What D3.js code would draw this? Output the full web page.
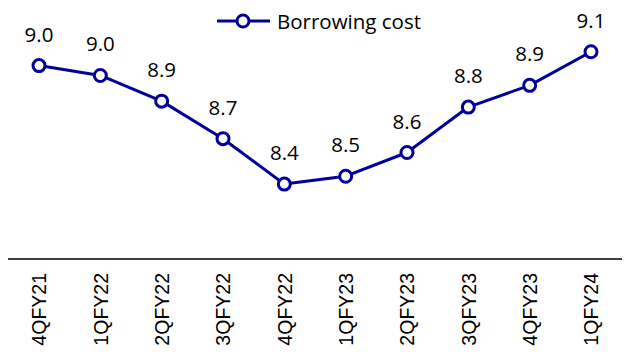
<!DOCTYPE html>
<html>
<head>
<meta charset="utf-8">
<script src="https://cdn.jsdelivr.net/npm/d3@7"></script>
<style>
  html, body { margin: 0; padding: 0; background: #ffffff; }
  svg { display: block; }
</style>
</head>
<body>
<div id="chart"></div>
<script>
const categories = ["4QFY21","1QFY22","2QFY22","3QFY22","4QFY22","1QFY23","2QFY23","3QFY23","4QFY23","1QFY24"];
const borrowingCost = [9.04, 8.99, 8.86, 8.67, 8.44, 8.48, 8.60, 8.83, 8.94, 9.11];
const seriesName = "Borrowing cost";

const W = 630, H = 352;
const color = "#000099";
const labelFont = "'Open Sans', sans-serif";
const axisFont = "'Liberation Sans', Arial, sans-serif";

const svg = d3.select("#chart").append("svg").attr("width", W).attr("height", H);

const x = d3.scalePoint().domain(categories).range([39, 591]);
const y = d3.scaleLinear().domain([8.0, 9.2]).range([271, 34]);

// baseline axis
const axisY = 259;
const xAxis = d3.axisBottom(x).tickSize(0).tickPadding(0);
const gx = svg.append("g").attr("transform", `translate(0,${axisY})`).call(xAxis);
gx.select(".domain").remove();
gx.append("line").attr("x1", 8).attr("x2", 622).attr("y1", 0).attr("y2", 0)
  .attr("stroke", "#000").attr("stroke-width", 1.5);
gx.selectAll(".tick text")
  .attr("font-family", axisFont).attr("font-size", 19.5).attr("fill", "#000")
  .attr("text-anchor", "end")
  .attr("dy", "0.35em")
  .attr("transform", "translate(0,14) rotate(-90)")
  .attr("x", 0).attr("y", 0);

// line
const line = d3.line().x((d, i) => x(categories[i])).y(d => y(d));
svg.append("path").datum(borrowingCost)
  .attr("d", line).attr("fill", "none")
  .attr("stroke", color).attr("stroke-width", 3).attr("stroke-linejoin", "round");

// markers
svg.selectAll("circle.pt").data(borrowingCost).enter().append("circle")
  .attr("class", "pt")
  .attr("cx", (d, i) => x(categories[i])).attr("cy", d => y(d))
  .attr("r", 6).attr("fill", "#fff").attr("stroke", color).attr("stroke-width", 3);

// data labels
const fmt = d3.format(".1f");
svg.selectAll("text.lbl").data(borrowingCost).enter().append("text")
  .attr("class", "lbl")
  .attr("x", (d, i) => x(categories[i])).attr("y", d => y(d) - 24)
  .attr("text-anchor", "middle")
  .attr("font-family", labelFont).attr("font-size", 20.5).attr("fill", "#000")
  .text(d => fmt(d));

// legend
const lg = svg.append("g");
lg.append("line").attr("x1", 217).attr("x2", 270).attr("y1", 21).attr("y2", 21)
  .attr("stroke", color).attr("stroke-width", 3);
lg.append("circle").attr("cx", 243).attr("cy", 21).attr("r", 6)
  .attr("fill", "#fff").attr("stroke", color).attr("stroke-width", 3);
lg.append("text").attr("x", 277).attr("y", 28.5)
  .attr("font-family", labelFont).attr("font-size", 20.5).attr("fill", "#000")
  .text(seriesName);
</script>
</body>
</html>
